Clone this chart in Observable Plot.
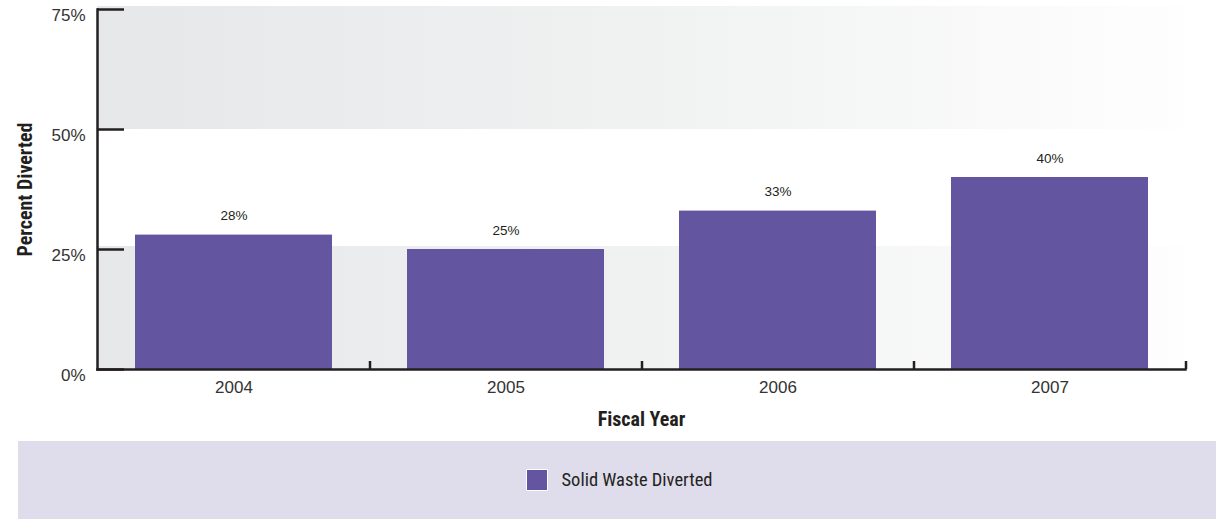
<!DOCTYPE html>
<html>
<head>
<meta charset="utf-8">
<script src="https://cdn.jsdelivr.net/npm/d3@7"></script>
<script src="https://cdn.jsdelivr.net/npm/@observablehq/plot@0.6"></script>
<style>
  html, body { margin: 0; padding: 0; background: #fff; }
  body { width: 1216px; height: 519px; overflow: hidden; font-family: "Liberation Sans", Arial, sans-serif; }
  #legend { position: absolute; left: 18px; top: 441px; width: 1198px; height: 78px; background: #dfdcec;
    display: flex; align-items: center; justify-content: center; }
  #legend .sw { width: 20px; height: 20px; background: #6455a1; border: 1px solid #fff; margin-right: 14px; margin-left: 4px; }
  #legend .lb { font-family: "Liberation Sans Narrow", "Roboto Condensed", "Arial Narrow", sans-serif; font-size: 18.5px; color: #231f20; }
  #chart { position: absolute; left: 0; top: 0; }
</style>
</head>
<body>
<div id="chart"></div>
<div id="legend"><div class="sw"></div><div class="lb">Solid Waste Diverted</div></div>
<script>
const years = ["2004", "2005", "2006", "2007"];
const diverted = [28, 25, 33, 40];
const yTicks = [0, 25, 50, 75];
const bands = [[0, 25], [50, 75]];
const seriesName = "Solid Waste Diverted";

const data = years.map((y, i) => ({year: y, value: diverted[i]}));
const bandData = bands.map(([a, b]) => ({a, b}));
const ink = "#231f20";
const narrow = "'Liberation Sans Narrow', 'Roboto Condensed', 'Arial Narrow', sans-serif";

const defs = () => {
  const ns = "http://www.w3.org/2000/svg";
  const d = document.createElementNS(ns, "defs");
  d.innerHTML = `<linearGradient id="bg" x1="0" x2="1" y1="0" y2="0">
      <stop offset="0" stop-color="#e6e7e9"/>
      <stop offset="0.5" stop-color="#f0f1f1"/>
      <stop offset="1" stop-color="#fefefe"/>
    </linearGradient>`;
  return d;
};

const chart = Plot.plot({
  width: 1216,
  height: 440,
  marginLeft: 97,
  marginRight: 31,
  marginTop: 9,
  marginBottom: 71,
  style: {fontFamily: "'Liberation Sans', Arial, sans-serif", color: ink, background: "transparent"},
  x: {domain: years, paddingInner: 0.276, paddingOuter: 0.138, label: null},
  y: {domain: [0, 75], label: null},
  marks: [
    defs,
    Plot.rectY(bandData, {y1: "a", y2: "b", fill: "url(#bg)", insetTop: -3}),
    Plot.barY(data, {x: "year", y: "value", fill: "#6455a1"}),
    Plot.text(data, {x: "year", y: "value", text: d => d.value + "%", dy: -19, fontSize: 13.5, fill: ink}),
    Plot.ruleY(yTicks, {stroke: ink, strokeWidth: 2.5, insetRight: 1088 - 27}),
    Plot.ruleX(years, {x: d => d, dx: 136, stroke: ink, strokeWidth: 2.5, insetTop: 352}),
    Plot.frame({anchor: "left", stroke: ink, strokeWidth: 2.5}),
    Plot.frame({anchor: "bottom", stroke: ink, strokeWidth: 2.5}),
    Plot.axisY(yTicks, {tickSize: 0, tickPadding: 12, dy: 6, tickFormat: d => d + "%", fontSize: 17, fill: "#333", label: null}),
    Plot.axisX({tickSize: 0, tickPadding: 11, fontSize: 17, fill: "#333", label: null}),
    Plot.text(["Fiscal Year"], {frameAnchor: "bottom", dy: 56, fontSize: 20, fontWeight: "bold", fontFamily: narrow, fill: ink}),
    Plot.text(["Percent Diverted"], {frameAnchor: "left", textAnchor: "middle", dx: -72, rotate: -90, fontSize: 20, fontWeight: "bold", fontFamily: narrow, fill: ink})
  ]
});
document.getElementById("chart").append(chart);
</script>
</body>
</html>
